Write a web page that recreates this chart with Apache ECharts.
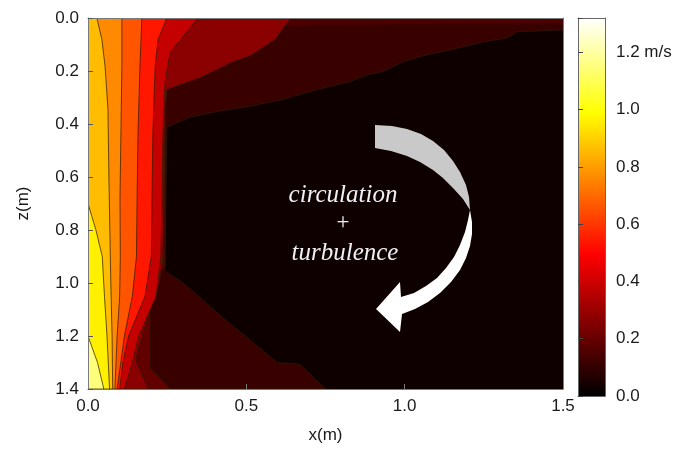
<!DOCTYPE html>
<html><head><meta charset="utf-8">
<script src="https://cdn.jsdelivr.net/npm/echarts/dist/echarts.min.js"></script>
<style>html,body{margin:0;padding:0;background:#fff}#c{width:697px;height:449px}</style>
</head><body><div id="c"></div>
<script>
// ---- data (x in m, z in m, speed in m/s) ----
const xTicks = [0.0, 0.5, 1.0, 1.5];
const zTicks = [0.0, 0.2, 0.4, 0.6, 0.8, 1.0, 1.2, 1.4];
const colorbarTicks = [0.0, 0.2, 0.4, 0.6, 0.8, 1.0, 1.2];
const speedMax = 1.32;
// speed value represented by each filled contour band (drawn in this order)
const bandValues = [0.03, 0.11, 0.15, 0.19, 0.27, 0.38, 0.54, 0.66, 0.76, 0.86, 0.96, 1.15];
// filled contour regions (speed >= band), polygons in [x, z]
const region0 = [[0,0],[1.5,0],[1.5,1.4],[0,1.4]];
const region1 = [[0,0],[1.5,0],[1.5,0.045],[1.355,0.052],[1.323,0.075],[1.25,0.09],[1.184,0.109],[1.102,0.131],[1.05,0.145],[0.995,0.165],[0.931,0.202],[0.88,0.215],[0.827,0.24],[0.723,0.27],[0.616,0.307],[0.512,0.333],[0.42,0.35],[0.322,0.374],[0.249,0.412],[0.246,0.681],[0.243,0.955],[0.3,1.0],[0.344,1.045],[0.426,1.131],[0.502,1.206],[0.597,1.3],[0.669,1.307],[0.75,1.4],[0,1.4]];
const regionTopStrip = [[0.6,0],[1.5,0],[1.5,0.018],[1.1,0.022],[0.7,0.026],[0.62,0.03]];
const region2 = [[0,0],[0.64,0],[0.59,0.082],[0.512,0.142],[0.458,0.165],[0.354,0.225],[0.249,0.27],[0.244,0.344],[0.243,0.68],[0.242,0.94],[0.2,0.98],[0.196,1.1],[0.196,1.32],[0.26,1.4],[0,1.4]];
const region3 = [[0,0],[0.64,0],[0.59,0.082],[0.512,0.142],[0.458,0.165],[0.354,0.225],[0.249,0.27],[0.243,0.344],[0.24,0.68],[0.237,0.9],[0.225,1.0],[0.17,1.2],[0.15,1.29],[0.19,1.4],[0,1.4]];
const region4 = [[0,0],[0.347,0],[0.259,0.131],[0.243,0.243],[0.237,0.43],[0.234,0.68],[0.23,0.9],[0.215,1.05],[0.16,1.2],[0.14,1.3],[0.115,1.4],[0,1.4]];
const region5 = [[0,0],[0.249,0],[0.221,0.082],[0.212,0.184],[0.205,0.43],[0.202,0.68],[0.2,0.9],[0.18,1.05],[0.128,1.2],[0.11,1.3],[0.1,1.4],[0,1.4]];
const region6 = [[0,0],[0.17,0],[0.164,0.184],[0.158,0.43],[0.155,0.68],[0.153,0.9],[0.14,1.05],[0.115,1.2],[0.092,1.4],[0,1.4]];
const region7 = [[0,0],[0.107,0],[0.107,0.184],[0.104,0.43],[0.101,0.68],[0.102,0.9],[0.1,1.05],[0.092,1.2],[0.085,1.4],[0,1.4]];
const region8 = [[0,0],[0.028,0],[0.044,0.082],[0.054,0.184],[0.063,0.344],[0.066,0.6],[0.069,0.8],[0.072,1.0],[0.076,1.2],[0.078,1.4],[0,1.4]];
const region9 = [[0,0.7],[0.025,0.8],[0.045,0.9],[0.052,1.05],[0.06,1.2],[0.068,1.4],[0,1.4]];
const region10 = [[0,1.2],[0.03,1.3],[0.05,1.4],[0,1.4]];
const regions = [region0, region1, regionTopStrip, region2, region3, region4, region5, region6, region7, region8, region9, region10];
const annotationLines = ['circulation', '+', 'turbulence'];

// ---- rendering ----
function hot(v) {
  const t = Math.max(0, Math.min(1, v / speedMax));
  const cl = a => Math.max(0, Math.min(1, a));
  const r = cl(t / 0.375), g = cl((t - 0.375) / 0.375), b = cl((t - 0.75) / 0.25);
  const h = a => Math.round(a * 255).toString(16).padStart(2, '0');
  return '#' + h(r) + h(g) + h(b);
}
const FONT = '"Liberation Sans", Arial, sans-serif';
const SERIF = '"Liberation Serif", "Times New Roman", serif';
const TXT = '#1a1a1a';
const chart = echarts.init(document.getElementById('c'));
const colorStops = [0, 0.375, 0.75, 1].map(f => ({ offset: 1 - f, color: hot(f * speedMax) }));

chart.setOption({
  animation: false,
  grid: [
    { left: 88, right: 134, top: 18, bottom: 57, show: false },
    { left: 578, right: 92, top: 18, bottom: 53, show: false }
  ],
  xAxis: [
    { gridIndex: 0, type: 'value', min: 0, max: 1.5, interval: 0.5, z: 5,
      name: 'x(m)', nameLocation: 'middle', nameGap: 38,
      nameTextStyle: { fontFamily: FONT, fontSize: 17, color: TXT },
      axisLine: { show: true, onZero: false, lineStyle: { color: '#7a7a7a', width: 1 } },
      axisTick: { show: true, inside: true, length: 5, lineStyle: { color: '#7a7a7a' } },
      axisLabel: { fontFamily: FONT, fontSize: 17, color: TXT, margin: 9, formatter: v => v.toFixed(1) },
      splitLine: { show: false } },
    { gridIndex: 0, type: 'value', min: 0, max: 1.5, position: 'top', z: 5,
      axisLine: { show: true, onZero: false, lineStyle: { color: '#7a7a7a', width: 1 } },
      axisTick: { show: false }, axisLabel: { show: false }, splitLine: { show: false } },
    { gridIndex: 1, type: 'value', min: 0, max: 1, show: true, z: 5,
      axisLine: { show: true, onZero: false, lineStyle: { color: '#666' } },
      axisTick: { show: false }, axisLabel: { show: false }, splitLine: { show: false } },
    { gridIndex: 1, type: 'value', min: 0, max: 1, position: 'top', z: 5,
      axisLine: { show: true, onZero: false, lineStyle: { color: '#666' } },
      axisTick: { show: false }, axisLabel: { show: false }, splitLine: { show: false } }
  ],
  yAxis: [
    { gridIndex: 0, type: 'value', min: 0, max: 1.4, interval: 0.2, inverse: true, z: 5,
      name: 'z(m)', nameLocation: 'middle', nameGap: 56, nameRotate: 90,
      nameTextStyle: { fontFamily: FONT, fontSize: 17, color: TXT },
      axisLine: { show: true, onZero: false, lineStyle: { color: '#7a7a7a', width: 1 } },
      axisTick: { show: true, inside: true, length: 5, lineStyle: { color: '#555' } },
      axisLabel: { fontFamily: FONT, fontSize: 17, color: TXT, margin: 9, formatter: v => v.toFixed(1) },
      splitLine: { show: false } },
    { gridIndex: 0, type: 'value', min: 0, max: 1.4, inverse: true, position: 'right', z: 5,
      axisLine: { show: true, onZero: false, lineStyle: { color: '#7a7a7a', width: 1 } },
      axisTick: { show: false }, axisLabel: { show: false }, splitLine: { show: false } },
    { gridIndex: 1, type: 'value', min: 0, max: speedMax, interval: 0.2, position: 'left', z: 5,
      axisLine: { show: true, onZero: false, lineStyle: { color: '#666' } },
      axisTick: { show: true, inside: true, length: 5, lineStyle: { color: '#444' } },
      axisLabel: { show: false }, splitLine: { show: false } },
    { gridIndex: 1, type: 'value', min: 0, max: speedMax, interval: 0.2, position: 'right', z: 5,
      axisLine: { show: true, onZero: false, lineStyle: { color: '#666' } },
      axisTick: { show: false },
      axisLabel: { fontFamily: FONT, fontSize: 17, color: TXT, margin: 11,
        formatter: v => {
          if (!colorbarTicks.some(t => Math.abs(t - v) < 1e-6)) return '';
          return Math.abs(v - 1.2) < 1e-6 ? '1.2 m/s' : v.toFixed(1);
        } },
      splitLine: { show: false } }
  ],
  series: [
    { type: 'custom', xAxisIndex: 0, yAxisIndex: 0, clip: true, z: 2,
      data: regions.map((r, i) => [r[0][0], r[0][1], bandValues[i]]),
      renderItem: (params, api) => {
        const i = params.dataIndex;
        const plain = i === 0 || regions[i] === regionTopStrip;
        return { type: 'polygon',
          shape: { points: regions[i].map(p => api.coord(p)) },
          style: { fill: hot(bandValues[i]), stroke: plain ? null : 'rgba(45,28,0,0.9)', lineWidth: plain ? 0 : 0.8 } };
      } },
    { type: 'custom', xAxisIndex: 2, yAxisIndex: 2, clip: true, z: 2,
      data: [[0, speedMax]],
      renderItem: (params, api) => {
        const a = api.coord([0, speedMax]), b = api.coord([1, 0]);
        return { type: 'rect', shape: { x: a[0], y: a[1], width: b[0] - a[0], height: b[1] - a[1] },
          style: { fill: new echarts.graphic.LinearGradient(0, 0, 0, 1, colorStops) } };
      } }
  ],
  graphic: [
    { type: 'polygon', z: 100,
      shape: { points: [[375,125],[392,126],[407,129],[421,134],[433,141],[444,150],[453,161],[460,172],[466,185],[469,197],[470,210],
                        [463,199],[453,188],[443,178],[433,170],[420,162],[407,156],[391,151],[375,148]] },
      style: { fill: '#c9c9c9' } },
    { type: 'polygon', z: 100,
      shape: { points: [[470,210],[472,222],[472,234],[470,246],[466,258],[460,270],[451,282],[440,293],[428,302],[415,309],[402,314],
                        [400,332],[376,309],[400,282],[401,297],[414,293],[426,286],[437,278],[446,268],[454,257],[460,245],[465,232],[468,220]] },
      style: { fill: '#ffffff' } },
    { type: 'text', z: 101, style: { text: annotationLines[0], x: 343, y: 195, align: 'center', verticalAlign: 'middle',
      fontFamily: SERIF, fontStyle: 'italic', fontSize: 25, fill: '#eef0f6' } },
    { type: 'text', z: 101, style: { text: annotationLines[1], x: 343, y: 223, align: 'center', verticalAlign: 'middle',
      fontFamily: SERIF, fontSize: 23, fill: '#eef0f6' } },
    { type: 'text', z: 101, style: { text: annotationLines[2], x: 345, y: 253, align: 'center', verticalAlign: 'middle',
      fontFamily: SERIF, fontStyle: 'italic', fontSize: 25, fill: '#eef0f6' } }
  ]
});
</script></body></html>
